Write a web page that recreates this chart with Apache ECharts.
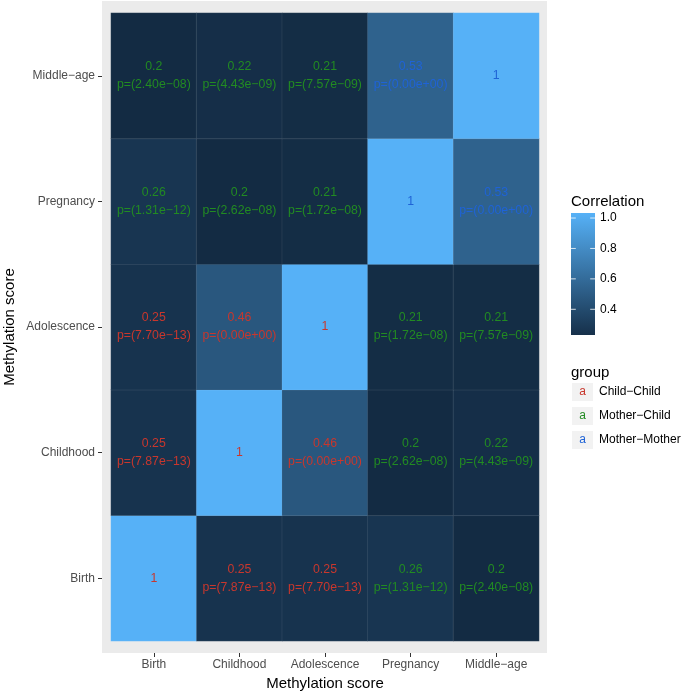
<!DOCTYPE html>
<html><head><meta charset="utf-8">
<script src="https://cdn.jsdelivr.net/npm/echarts@6/dist/echarts.min.js"></script>
<style>html,body{margin:0;padding:0;background:#fff}#c{width:685px;height:692px}</style>
</head><body><div id="c"></div>
<script>
// categories (x left->right, y bottom->top)
const categories = ['Birth', 'Childhood', 'Adolescence', 'Pregnancy', 'Middle−age'];
// correlation matrix: row = y category, column = x category
const corr = [
  [1, 0.25, 0.25, 0.26, 0.2],
  [0.25, 1, 0.46, 0.2, 0.22],
  [0.25, 0.46, 1, 0.21, 0.21],
  [0.26, 0.2, 0.21, 1, 0.53],
  [0.2, 0.22, 0.21, 0.53, 1]
];
const pvals = [
  ['', '7.87e−13', '7.70e−13', '1.31e−12', '2.40e−08'],
  ['7.87e−13', '', '0.00e+00', '2.62e−08', '4.43e−09'],
  ['7.70e−13', '0.00e+00', '', '1.72e−08', '7.57e−09'],
  ['1.31e−12', '2.62e−08', '1.72e−08', '', '0.00e+00'],
  ['2.40e−08', '4.43e−09', '7.57e−09', '0.00e+00', '']
];
// group index per cell
const groups = [
  [0, 0, 0, 1, 1],
  [0, 0, 0, 1, 1],
  [0, 0, 0, 1, 1],
  [1, 1, 1, 2, 2],
  [1, 1, 1, 2, 2]
];
const groupNames = ['Child−Child', 'Mother−Child', 'Mother−Mother'];
const groupColors = ['#C8372D', '#228B22', '#1F63D6'];
const colorbarTicks = [0.4, 0.6, 0.8, 1.0];
const colorbarRange = [0.231, 1.033];
const scaleLimits = [0.2, 1.0];
const lowColor = '#132B43', highColor = '#56B1F7';

const FONT = '"Liberation Sans", Arial, Helvetica, sans-serif';

function lerpColor(t) {
  const a = [0x13, 0x2B, 0x43], b = [0x56, 0xB1, 0xF7];
  t = Math.max(0, Math.min(1, t));
  return 'rgb(' + a.map((v, i) => Math.round(v + (b[i] - v) * t)).join(',') + ')';
}
const cbLow = lerpColor((colorbarRange[0] - scaleLimits[0]) / (scaleLimits[1] - scaleLimits[0]));
const cbHigh = lerpColor((colorbarRange[1] - scaleLimits[0]) / (scaleLimits[1] - scaleLimits[0]));

const heatSeries = groupNames.map((name, g) => {
  const data = [];
  for (let y = 0; y < categories.length; y++) {
    for (let x = 0; x < categories.length; x++) {
      if (groups[y][x] === g) data.push([x, y, corr[y][x], pvals[y][x]]);
    }
  }
  return {
    name: name,
    type: 'heatmap',
    xAxisIndex: 0, yAxisIndex: 0,
    data: data,
    itemStyle: { borderColor: 'rgba(255,255,255,0.08)', borderWidth: 1 },
    emphasis: { disabled: true },
    label: {
      show: true,
      color: groupColors[g],
      fontFamily: FONT,
      fontSize: 12.3,
      lineHeight: 18,
      formatter: p => p.data[3] === '' ? String(p.data[2]) : p.data[2] + '\n' + 'p=(' + p.data[3] + ')'
    }
  };
});

const rich = {};
groupNames.forEach((n, i) => {
  rich['k' + i] = { width: 21, height: 18, backgroundColor: '#F2F2F2', align: 'center', color: groupColors[i], fontSize: 12, fontFamily: FONT };
});
rich.t = { padding: [0, 0, 0, 6], fontSize: 12, color: '#000', fontFamily: FONT };

const chart = echarts.init(document.getElementById('c'), null, { renderer: 'canvas' });
chart.setOption({
  animation: false,
  backgroundColor: '#fff',
  textStyle: { fontFamily: FONT },
  graphic: [{
    type: 'rect', left: 102, top: 1, z: -100,
    shape: { width: 445, height: 652 },
    style: { fill: '#EBEBEB' }, silent: true
  }],
  title: [
    { text: 'Correlation', left: 571, top: 194, padding: 0, textStyle: { fontSize: 15, fontWeight: 'normal', color: '#000', fontFamily: FONT } },
    { text: 'group', left: 571, top: 365, padding: 0, textStyle: { fontSize: 15, fontWeight: 'normal', color: '#000', fontFamily: FONT } }
  ],
  legend: {
    orient: 'vertical', left: 566, top: 383, padding: 0,
    itemWidth: 0, itemHeight: 0, itemGap: 6, icon: 'rect',
    selectedMode: false,
    data: groupNames,
    formatter: name => '{k' + groupNames.indexOf(name) + '|a}{t|' + name + '}',
    textStyle: { rich: rich }
  },
  grid: [
    { left: 111, top: 13, width: 428, height: 628, outerBoundsMode: 'none', containLabel: false },
    { left: 571, top: 213, width: 24, height: 122, outerBoundsMode: 'none', containLabel: false }
  ],
  visualMap: {
    show: false, type: 'continuous', min: scaleLimits[0], max: scaleLimits[1],
    dimension: 2, seriesIndex: [0, 1, 2],
    inRange: { color: [lowColor, highColor] }
  },
  xAxis: [{
    type: 'category', gridIndex: 0, data: categories, offset: 12,
    axisLine: { show: false },
    axisTick: { show: true, alignWithLabel: true, length: 4, lineStyle: { color: '#333' } },
    axisLabel: { color: '#4D4D4D', fontSize: 12, margin: 6, interval: 0, fontFamily: FONT },
    splitLine: { show: false },
    name: 'Methylation score', nameLocation: 'middle', nameGap: 23, nameMoveOverlap: false,
    nameTextStyle: { fontSize: 15, color: '#000', fontFamily: FONT }
  }, {
    type: 'value', gridIndex: 1, min: 0, max: 1, show: false
  }],
  yAxis: [{
    type: 'category', gridIndex: 0, data: categories, offset: 9,
    axisLine: { show: false },
    axisTick: { show: true, alignWithLabel: true, length: 4, lineStyle: { color: '#333' } },
    axisLabel: { color: '#4D4D4D', fontSize: 12, margin: 7, interval: 0, fontFamily: FONT },
    splitLine: { show: false },
    name: 'Methylation score', nameLocation: 'middle', nameGap: 85, nameRotate: 90, nameMoveOverlap: false,
    nameTextStyle: { fontSize: 15, color: '#000', fontFamily: FONT }
  }, {
    type: 'value', gridIndex: 1, min: colorbarRange[0], max: colorbarRange[1], position: 'right',
    axisLine: { show: false },
    axisTick: { show: false },
    axisLabel: { show: true, customValues: colorbarTicks, formatter: v => v.toFixed(1), color: '#000', fontSize: 12, margin: 5, fontFamily: FONT },
    splitLine: { show: false }
  }],
  series: heatSeries.concat([{
    type: 'custom', xAxisIndex: 1, yAxisIndex: 1, silent: true, z: 1,
    data: [[0, colorbarRange[0], colorbarRange[1]]],
    renderItem: (params, api) => {
      const lo = api.coord([0, api.value(1)]);
      const hi = api.coord([1, api.value(2)]);
      const w = hi[0] - lo[0];
      const children = [{
        type: 'rect',
        shape: { x: lo[0], y: hi[1], width: w, height: lo[1] - hi[1] },
        style: { fill: new echarts.graphic.LinearGradient(0, 1, 0, 0, [{ offset: 0, color: cbLow }, { offset: 1, color: cbHigh }]) }
      }];
      colorbarTicks.forEach(t => {
        const py = api.coord([0, t])[1];
        children.push({ type: 'line', shape: { x1: lo[0], y1: py, x2: lo[0] + w / 5, y2: py }, style: { stroke: '#fff', lineWidth: 1, opacity: 0.8 } });
        children.push({ type: 'line', shape: { x1: hi[0] - w / 5, y1: py, x2: hi[0], y2: py }, style: { stroke: '#fff', lineWidth: 1, opacity: 0.8 } });
      });
      return { type: 'group', children: children };
    }
  }])
});
</script></body></html>
